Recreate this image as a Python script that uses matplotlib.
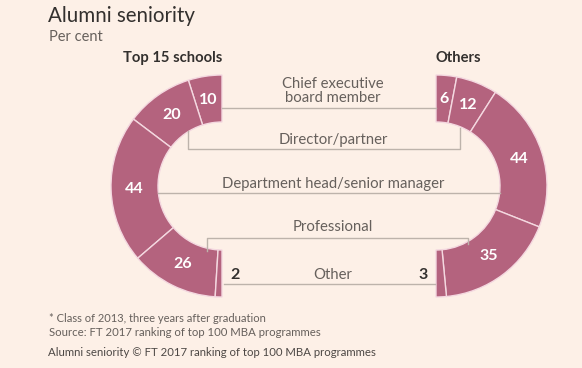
import numpy as np
import matplotlib
matplotlib.use("Agg")
import matplotlib.pyplot as plt
from matplotlib.patches import Wedge

# data (per cent)
roles = ["Chief executive\nboard member", "Director/partner",
         "Department head/senior manager", "Professional", "Other"]
top15 = [10, 20, 44, 26, 2]
others = [6, 12, 44, 35, 3]

BG = "#fdf0e7"
SEG = "#b4637e"
LINE = "#bdb3ab"
TXT = "#66605c"

W, H = 582, 368
fig = plt.figure(figsize=(W / 100, H / 100), dpi=100, facecolor=BG)
ax = fig.add_axes([0, 0, 1, 1])
ax.set_xlim(0, W)
ax.set_ylim(H, 0)
ax.set_aspect("equal")
ax.axis("off")
ax.set_facecolor(BG)

plt.rcParams["font.family"] = ["Lato", "DejaVu Sans"]

R, r = 111, 64
cy = 186


def half_ring(vals, cx, side):
    # side = -1 -> left half (goes down on the left), +1 -> right half
    tot = float(sum(vals))
    cum = 0
    for v in vals:
        a0 = cum / tot * 180
        a1 = (cum + v) / tot * 180
        # angle measured from the top, converted to matplotlib degrees (y axis flipped)
        if side < 0:
            t1, t2 = 270 - a1, 270 - a0
        else:
            t1, t2 = 270 + a0, 270 + a1
        ax.add_patch(Wedge((cx, cy), R, t1, t2, width=R - r, facecolor=SEG,
                           edgecolor="#f4d8e0", linewidth=1.0))
        mid = np.radians((a0 + a1) / 2)
        rm = (R + r) / 2
        lx = cx + side * rm * np.sin(mid)
        ly = cy - rm * np.cos(mid)
        if v >= 5:
            ax.text(lx, ly, str(v), color="white", fontsize=11.5, fontweight="bold",
                    ha="center", va="center")
        else:
            ax.text(cx - side * 13, ly + 2, str(v), color="#33302e", fontsize=11.5,
                    fontweight="bold", ha="center", va="center")
        cum += v


cl, cr = 222, 436
half_ring(top15, cl, -1)
half_ring(others, cr, +1)

lw = 1.0
# guide lines
ax.plot([cl, cr], [108, 108], color=LINE, lw=lw)
ax.plot([188, 188, 460, 460], [131, 149, 149, 128], color=LINE, lw=lw)
ax.plot([cl - r, cr + r], [193, 193], color=LINE, lw=lw)
ax.plot([207, 207, 468, 468], [251, 238, 238, 244], color=LINE, lw=lw)
ax.plot([cl + 2, cr - 1], [284, 284], color=LINE, lw=lw)

mx = (cl + cr) / 2 + 4
fs = 10.7
ax.text(mx, 91, roles[0], color=TXT, fontsize=fs, ha="center", va="center",
        linespacing=1.0)
ax.text(mx, 140, roles[1], color=TXT, fontsize=fs, ha="center", va="center")
ax.text(mx, 184, roles[2], color=TXT, fontsize=fs, ha="center", va="center")
ax.text(mx, 227, roles[3], color=TXT, fontsize=fs, ha="center", va="center")
ax.text(mx, 275, roles[4], color=TXT, fontsize=fs, ha="center", va="center")

ax.text(173, 58, "Top 15 schools", color="#33302e", fontsize=10.6, fontweight="bold",
        ha="center", va="center")
ax.text(458, 58, "Others", color="#33302e", fontsize=10.6, fontweight="bold",
        ha="center", va="center")

ax.text(48, 16, "Alumni seniority", color="#33302e", fontsize=14.8, ha="left", va="center")
ax.text(49, 37, "Per cent", color=TXT, fontsize=10.5, ha="left", va="center")

ax.text(49, 318, "* Class of 2013, three years after graduation", color=TXT,
        fontsize=8, ha="left", va="center")
ax.text(49, 333, "Source: FT 2017 ranking of top 100 MBA programmes", color=TXT,
        fontsize=8.2, ha="left", va="center")
ax.text(48, 353, "Alumni seniority \u00a9 FT 2017 ranking of top 100 MBA programmes",
        color="#4d4845", fontsize=8.2, ha="left", va="center")

fig.savefig("out.png", dpi=100, facecolor=BG)
